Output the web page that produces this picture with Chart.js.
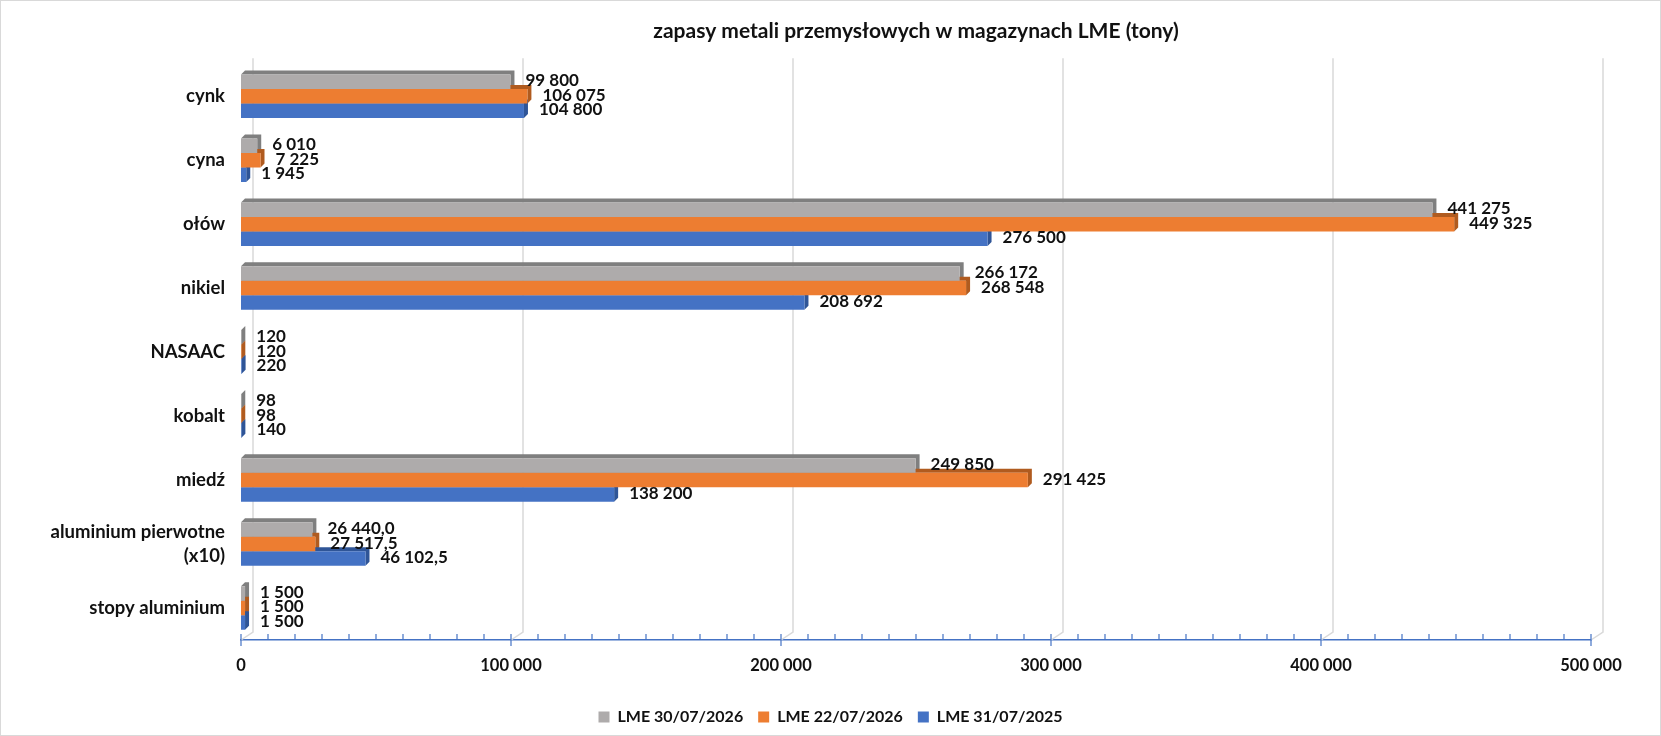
<!DOCTYPE html>
<html>
<head>
<meta charset="utf-8">
<script src="https://cdn.jsdelivr.net/npm/chart.js@4/dist/chart.umd.min.js"></script>
<style>
  html, body { margin: 0; padding: 0; background: #fff; }
  #wrap { width: 1661px; height: 736px; box-sizing: border-box; border: 1px solid #d9d9d9; }
</style>
</head>
<body>
<div id="wrap"><canvas id="chart"></canvas></div>
<script>
// data
const categories = ['cynk', 'cyna', 'ołów', 'nikiel', 'NASAAC', 'kobalt', 'miedź',
                    ['aluminium pierwotne', '(x10)'], 'stopy aluminium'];
const seriesNames = ['LME 30/07/2026', 'LME 22/07/2026', 'LME 31/07/2025'];
const lme30072026 = [99800, 6010, 441275, 266172, 120, 98, 249850, 26440.0, 1500];
const lme22072026 = [106075, 7225, 449325, 268548, 120, 98, 291425, 27517.5, 1500];
const lme31072025 = [104800, 1945, 276500, 208692, 220, 140, 138200, 46102.5, 1500];
const labelDecimals = [0, 0, 0, 0, 0, 0, 0, 1, 0];
const xMax = 500000;
const xStep = 100000;
const xMinorStep = 10000;

const frontColors = ['#AEABAB', '#ED7D31', '#4472C4'];
const sideColors = ['#7F7F7F', '#B05B1F', '#2F5597'];
const DEPTH = 4;
const FONT = 'Lato, "Open Sans", sans-serif';

function fmt(v, dec) {
  const parts = v.toFixed(dec).split('.');
  parts[0] = parts[0].replace(/\B(?=(\d{3})+(?!\d))/g, ' ');
  return parts.join(',');
}

// back wall gridlines + 3D top/side faces of the bars
const bar3d = {
  id: 'bar3d',
  beforeDatasetsDraw(chart) {
    const ctx = chart.ctx;
    const xs = chart.scales.x;
    const area = chart.chartArea;
    ctx.save();
    ctx.strokeStyle = '#D9D9D9';
    ctx.lineWidth = 1.5;
    for (let v = 0; v <= xMax; v += xStep) {
      const px = xs.getPixelForValue(v);
      ctx.beginPath();
      ctx.moveTo(px + 12, area.top - 6);
      ctx.lineTo(px + 12, area.bottom - 8);
      ctx.lineTo(px, area.bottom);
      ctx.stroke();
    }
    chart.data.datasets.forEach((ds, i) => {
      const meta = chart.getDatasetMeta(i);
      ctx.fillStyle = sideColors[i];
      meta.data.forEach(el => {
        const p = el.getProps(['x', 'y', 'base', 'height'], true);
        const x0 = p.base, x1 = p.x;
        const yt = p.y - p.height / 2, yb = p.y + p.height / 2;
        ctx.beginPath();
        ctx.moveTo(x0, yt);
        ctx.lineTo(x0 + DEPTH, yt - DEPTH);
        ctx.lineTo(x1 + DEPTH, yt - DEPTH);
        ctx.lineTo(x1 + DEPTH, yb - DEPTH);
        ctx.lineTo(x1, yb);
        ctx.lineTo(x1, yt);
        ctx.closePath();
        ctx.fill();
      });
    });
    ctx.restore();
  },
  afterDatasetsDraw(chart) {
    const ctx = chart.ctx;
    ctx.save();
    ctx.font = 'bold 17px ' + FONT;
    ctx.fillStyle = '#111';
    ctx.textAlign = 'left';
    ctx.textBaseline = 'middle';
    chart.data.datasets.forEach((ds, i) => {
      const meta = chart.getDatasetMeta(i);
      meta.data.forEach((el, j) => {
        const p = el.getProps(['x', 'y'], true);
        ctx.fillText(fmt(ds.data[j], labelDecimals[j]), p.x + DEPTH + 11, p.y - 1);
      });
    });
    ctx.restore();
  },
  afterDraw(chart) {
    // major and minor tick marks on the value axis
    const ctx = chart.ctx;
    const xs = chart.scales.x;
    const y = chart.chartArea.bottom;
    ctx.save();
    ctx.strokeStyle = '#4472C4';
    ctx.lineWidth = 1.2;
    for (let v = 0; v <= xMax; v += xMinorStep) {
      const px = xs.getPixelForValue(v);
      const major = v % xStep === 0;
      ctx.beginPath();
      ctx.moveTo(px, y - 6);
      ctx.lineTo(px, major ? y + 6 : y);
      ctx.stroke();
    }
    ctx.restore();
  }
};

const ctx = document.getElementById('chart');
new Chart(ctx, {
  type: 'bar',
  data: {
    labels: categories,
    datasets: [
      { label: seriesNames[0], data: lme30072026, backgroundColor: frontColors[0] },
      { label: seriesNames[1], data: lme22072026, backgroundColor: frontColors[1] },
      { label: seriesNames[2], data: lme31072025, backgroundColor: frontColors[2] }
    ]
  },
  options: {
    indexAxis: 'y',
    responsive: true,
    maintainAspectRatio: false,
    animation: false,
    categoryPercentage: 0.68,
    barPercentage: 1,
    layout: { padding: { left: 0, right: 0, top: 0, bottom: 0 } },
    scales: {
      x: {
        min: 0,
        max: xMax,
        grid: { display: false },
        border: { display: true, color: '#4472C4', width: 1.5 },
        ticks: {
          stepSize: xStep,
          padding: 8,
          color: '#111',
          font: { family: FONT, size: 16.5, weight: 'bold' },
          callback: v => fmt(v, 0)
        },
        afterFit: s => { s.height = 54; }
      },
      y: {
        grid: { display: false },
        border: { display: false },
        ticks: {
          padding: 8,
          color: '#111',
          font: { family: FONT, size: 18.5, weight: 'bold', lineHeight: 1.3 }
        },
        afterFit: s => { s.width = 240; }
      },
      // empty right-hand margin, keeps the legend centred on the whole canvas
      yRight: {
        type: 'category',
        position: 'right',
        grid: { display: false },
        border: { display: false },
        ticks: { display: false },
        afterFit: s => { s.width = 69; }
      }
    },
    plugins: {
      title: {
        display: true,
        fullSize: false,
        text: 'zapasy metali przemysłowych w magazynach LME (tony)',
        color: '#111',
        font: { family: FONT, size: 21, weight: 'bold' },
        padding: { top: 18, bottom: 20 }
      },
      legend: {
        position: 'bottom',
        labels: {
          boxWidth: 11,
          boxHeight: 11,
          padding: 15,
          color: '#111',
          font: { family: FONT, size: 16, weight: 'bold' }
        }
      },
      tooltip: { enabled: false }
    }
  },
  plugins: [bar3d]
});
</script>
</body>
</html>
